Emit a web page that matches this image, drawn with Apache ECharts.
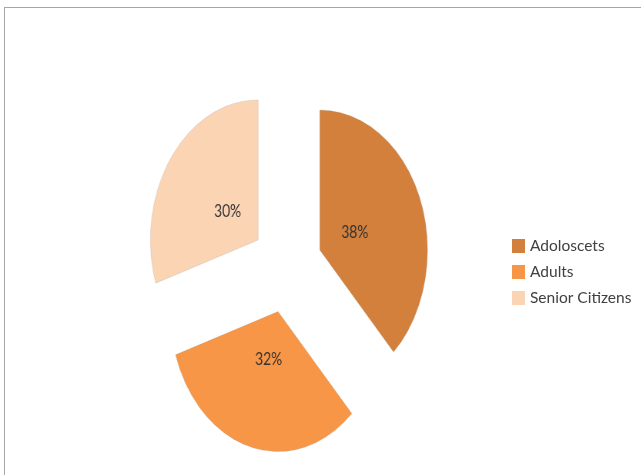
<!DOCTYPE html>
<html>
<head>
<meta charset="utf-8">
<script src="https://cdn.jsdelivr.net/npm/echarts@6/dist/echarts.min.js"></script>
<style>
  html, body { margin: 0; padding: 0; background: #fff; overflow: hidden; width: 641px; height: 475px; }
  #frame { position: absolute; left: 4px; top: 7px; width: 700px; height: 500px;
           border-top: 1px solid #a6a6a6; border-left: 1px solid #a6a6a6; }
  #pie { position: absolute; left: 0; top: 0; width: 832px; height: 475px;
         transform: scaleX(0.77); transform-origin: 0 0; }
  #legendChart { position: absolute; left: 0; top: 0; width: 641px; height: 475px; }
</style>
</head>
<body>
<div id="frame"></div>
<div id="pie"></div>
<div id="legendChart"></div>
<script>
// ---- data ----
const categories = ['Adoloscets', 'Adults', 'Senior Citizens'];
const shares = [38, 32, 30];
const colors = ['#D3803C', '#F79646', '#FBD4B4'];

const pieData = categories.map((name, i) => ({ name: name, value: shares[i], selected: true }));

// ---- pie (drawn circular, photographed squeezed horizontally like the reference) ----
const pieChart = echarts.init(document.getElementById('pie'), null, { renderer: 'canvas' });
pieChart.setOption({
  animation: false,
  color: colors,
  series: [
    {
      type: 'pie',
      center: [372.5, 267],
      radius: [0, 140],
      startAngle: 90,
      clockwise: true,
      selectedMode: 'multiple',
      selectedOffset: 46,
      silent: true,
      label: { show: false },
      labelLine: { show: false },
      emphasis: { disabled: true },
      itemStyle: { borderColor: 'rgba(150,150,150,0.35)', borderWidth: 0.6 },
      data: pieData
    },
    {
      type: 'pie',
      center: [372.5, 267],
      radius: [0, 92],
      startAngle: 90,
      clockwise: true,
      selectedMode: 'multiple',
      selectedOffset: 46,
      silent: true,
      itemStyle: { color: 'rgba(0,0,0,0)' },
      labelLine: { show: false },
      emphasis: { disabled: true },
      label: {
        show: true,
        position: 'inside',
        fontFamily: 'Lato',
        fontSize: 18,
        color: '#333',
        formatter: p => Math.round(p.percent) + '%'
      },
      data: pieData
    }
  ]
});

// ---- legend (unsqueezed text) ----
const legendChart = echarts.init(document.getElementById('legendChart'), null, { renderer: 'canvas' });
legendChart.setOption({
  animation: false,
  color: colors,
  legend: {
    orient: 'vertical',
    left: 507,
    top: 233,
    itemWidth: 13,
    itemHeight: 14,
    itemGap: 10,
    icon: 'rect',
    selectedMode: false,
    textStyle: { fontFamily: 'Lato', fontSize: 15.5, color: '#404040' },
    data: categories
  },
  series: [
    {
      type: 'pie',
      radius: [0, 0],
      center: [-100, -100],
      silent: true,
      label: { show: false },
      labelLine: { show: false },
      data: categories.map((name, i) => ({ name: name, value: shares[i] }))
    }
  ]
});
</script>
</body>
</html>
